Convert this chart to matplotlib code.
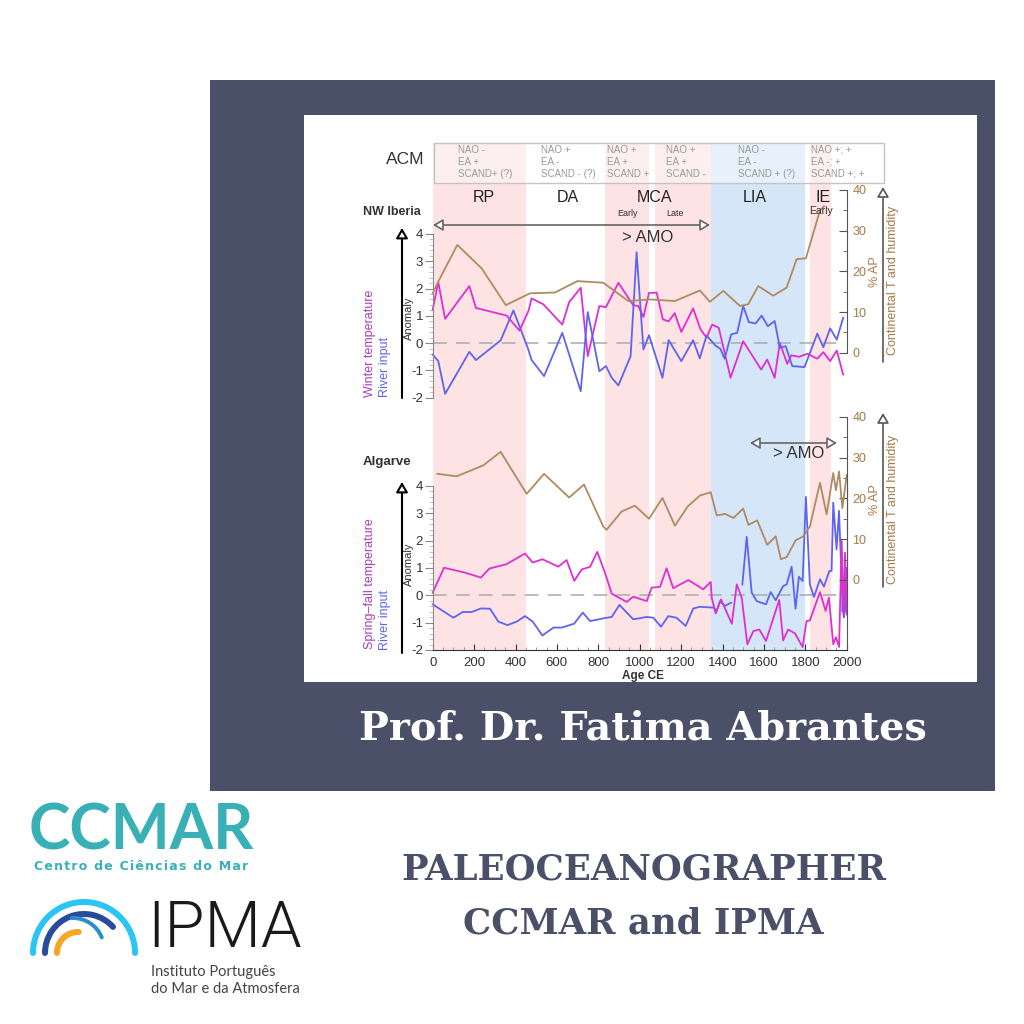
import matplotlib
matplotlib.use("Agg")
import matplotlib.pyplot as plt
from matplotlib.patches import Rectangle, Arc

plt.rcParams["font.family"] = ["Liberation Sans", "DejaVu Sans"]
plt.rcParams["axes.unicode_minus"] = False

# %% data
era_names = ["RP", "DA", "MCA", "LIA", "IE"]
era_spans = [(0, 450, "pink"), (832, 1047, "pink"), (1072, 1343, "pink"),
             (1343, 1800, "blue"), (1824, 1925, "pink")]
year_ticks = [0, 200, 400, 600, 800, 1000, 1200, 1400, 1600, 1800, 2000]
anomaly_ticks = [-2, -1, 0, 1, 2, 3, 4]
ap_ticks = [0, 10, 20, 30, 40]
acm_labels = ["NAO -\nEA +\nSCAND+ (?)", "NAO +\nEA -\nSCAND - (?)", "NAO +\nEA +\nSCAND +",
              "NAO +\nEA +\nSCAND -", "NAO -\nEA -\nSCAND + (?)", "NAO +; +\nEA -; +\nSCAND +; +"]

nw_ap_x = [0, 27, 119, 237, 353, 470, 591, 699, 824, 945, 1050, 1170, 1291, 1339, 1404, 1484,
           1524, 1573, 1645, 1710, 1758, 1803, 1822, 1871, 1890]
nw_ap_y = [14.6, 17.5, 26.5, 20.7, 11.7, 14.6, 14.8, 17.6, 17.2, 12.7, 13.1, 12.7, 15.3, 12.5,
           15.2, 11.5, 11.9, 16.4, 14, 16, 23, 23.2, 26.5, 35, 36]
nw_temp_x = [0, 27, 60, 177, 209, 357, 419, 462, 478, 535, 626, 659, 715, 749, 805, 837, 897,
             969, 993, 1018, 1045, 1082, 1112, 1140, 1169, 1201, 1258, 1294, 1323, 1350, 1382,
             1439, 1500, 1587, 1616, 1652, 1677, 1713, 1732, 1770, 1810, 1858, 1887, 1920, 1952, 1983]
nw_temp_y = [1.23, 2.23, 0.89, 2.09, 1.29, 1.01, 0.46, 1.17, 1.64, 1.42, 0.68, 1.5, 2.03, -0.48,
             1.36, 1.32, 2.21, 1.39, 1.36, 0.96, 1.84, 1.85, 0.87, 0.8, 1.1, 0.41, 1.27, 0.5, 0.2,
             0.68, 0.56, -1.27, 0.07, -0.97, -0.6, -1.27, 0, -0.76, -0.45, -0.5, -0.39, -0.57,
             -0.33, -0.66, -0.27, -1.15]
nw_river_x = [0, 27, 60, 177, 209, 328, 390, 459, 478, 538, 626, 715, 749, 805, 837, 865, 897,
              956, 985, 1018, 1045, 1110, 1140, 1201, 1258, 1290, 1323, 1366, 1390, 1410, 1442,
              1471, 1500, 1527, 1560, 1589, 1619, 1652, 1677, 1705, 1737, 1796, 1858, 1887, 1920,
              1952, 1983]
nw_river_y = [-0.42, -0.66, -1.86, -0.32, -0.62, 0.1, 1.2, -0.17, -0.62, -1.21, 0.38, -1.76, 1.14,
              -1.03, -0.84, -1.27, -1.55, -0.48, 3.33, -0.23, 0.29, -1.27, 0.11, -0.66, 0.11,
              -0.56, 0.28, -0.09, -0.21, -0.57, 0.32, 0.38, 1.36, 0.77, 0.72, 1.01, 0.62, 0.81,
              -0.17, -0.11, -0.84, -0.88, 0.35, -0.15, 0.54, 0.13, 0.93]

alg_ap_x = [23, 116, 245, 328, 454, 538, 659, 731, 824, 840, 913, 977, 1045, 1110, 1170, 1232,
            1291, 1343, 1372, 1412, 1453, 1500, 1525, 1568, 1616, 1657, 1682, 1710, 1753, 1790,
            1822, 1871, 1903, 1935, 1948, 1963, 1979, 2000]
alg_ap_y = [26, 25.4, 28.1, 31.4, 21.1, 26, 20.2, 23.4, 13.1, 12.3, 16.8, 18.2, 15, 20.1, 13.3,
            18, 20.7, 21.5, 15.8, 16.2, 15.2, 17.5, 13.5, 14.6, 8.6, 10.7, 5.1, 5.6, 9.7, 10.7,
            13.1, 23.8, 16.1, 26.2, 22, 26.6, 17.6, 25.7]
alg_temp_x = [0, 55, 156, 233, 274, 357, 446, 483, 530, 607, 647, 684, 720, 760, 795, 832, 865,
              937, 969, 1034, 1058, 1098, 1130, 1162, 1235, 1307, 1343, 1348, 1367, 1393, 1445,
              1469, 1493, 1520, 1549, 1578, 1610, 1674, 1693, 1717, 1750, 1787, 1806, 1822, 1871,
              1898, 1914, 1935, 1948, 1963, 1976, 1984, 1992, 2000]
alg_temp_y = [0.1, 1.01, 0.83, 0.65, 0.98, 1.14, 1.53, 1.2, 1.32, 1.05, 1.29, 0.53, 0.95, 1.04,
              1.59, 0.83, 0.06, -0.24, -0.05, -0.21, 0.28, 0.31, 0.99, 0.26, 0.56, 0.22, 0.49,
              -0.09, -0.66, -0.15, -1.04, 0.4, -0.09, -1.79, -1.31, -1.25, -1.67, -0.17, -1.65,
              -1.25, -1.39, -1.89, -0.94, -0.92, 0.12, -0.57, -0.09, -1.79, -1.53, -1.89, 1.99,
              -0.7, 1.56, -0.7]
alg_river_x = [0, 100, 145, 188, 233, 277, 317, 361, 406, 446, 483, 530, 583, 623, 683, 725, 760,
               841, 865, 902, 969, 1034, 1066, 1103, 1138, 1178, 1222, 1259, 1291, 1356, 1372,
               1388, 1412, 1441, 1470, 1496, 1517, 1541, 1565, 1610, 1633, 1657, 1693, 1710, 1734,
               1753, 1769, 1787, 1803, 1822, 1842, 1871, 1890, 1916, 1927, 1935, 1951, 1963, 1976,
               1980, 1984, 1987, 1990, 1993, 1996, 1998, 2000]
alg_river_y = [-0.33, -0.82, -0.61, -0.61, -0.48, -0.49, -0.96, -1.09, -0.96, -0.76, -0.96, -1.47,
               -1.18, -1.18, -1.04, -0.63, -0.94, -0.82, -0.79, -0.35, -0.88, -0.79, -0.82, -1.15,
               -0.76, -0.82, -1.12, -0.48, -0.42, -0.45, -0.57, -0.21, -0.39, -0.27, float("nan"),
               0.4, 2.14, 0.1, -0.21, -0.33, 0.12, -0.18, 0.34, 0.4, 1.05, -0.49, 0.68, 0.52, 3.6,
               0.4, -0.06, 0.59, 0.32, 0.89, 0.89, 3.39, 1.68, 3.09, 0.46, -0.6, 0.4, -0.8, 0.2,
               -0.6, 0.6, -0.3, 1.0]

# %% colours
SLATE = "#4a5068"
PINK = "#fde3e3"
BLUE = "#d4e6f8"
BROWN = "#b08a62"
BROWN_TXT = "#a87a45"
MAGENTA = "#e02fd0"
RIVER = "#5f64f0"
TEAL = "#38b0b5"
GREY = "#8a8a8a"
DARK = "#333333"

fig = plt.figure(figsize=(10.24, 10.24), dpi=100, facecolor="white")


def px_axes(left, top, right, bottom, zorder):
    ax = fig.add_axes([left / 1024, 1 - bottom / 1024, (right - left) / 1024, (bottom - top) / 1024],
                      zorder=zorder)
    ax.patch.set_alpha(0)
    return ax


def layer(zorder):
    ax = px_axes(0, 0, 1024, 1024, zorder)
    ax.set_xlim(0, 1024)
    ax.set_ylim(1024, 0)
    ax.axis("off")
    return ax


# %% background panels
bg = layer(0)
bg.add_patch(Rectangle((210, 80), 785, 711, color=SLATE, lw=0))
bg.add_patch(Rectangle((304, 115), 673, 567, color="white", lw=0))

# %% era bands
X0, X1 = 432.7, 846.7
era = px_axes(X0, 143, X1, 650, 1)
era.set_xlim(0, 2000)
era.set_ylim(0, 1)
era.axis("off")
for start, end, kind in era_spans:
    era.axvspan(start, end, color=PINK if kind == "pink" else BLUE, lw=0)


# %% anomaly and % AP panels
def anomaly_panel(top, bottom, series, show_x):
    ax = px_axes(X0, top, X1, bottom, 2)
    ax.set_xlim(0, 2000)
    ax.set_ylim(-2, 4)
    ax.axhline(0, xmax=0.98, color="#aaaaaa", lw=1.1, dashes=(9, 6))
    for xs, ys, col in series:
        ax.plot(xs, ys, color=col, lw=1.3, clip_on=False)
    for side in ["top", "right"]:
        ax.spines[side].set_visible(False)
    ax.spines["left"].set_color(GREY)
    ax.spines["bottom"].set_color(DARK if show_x else "none")
    ax.set_yticks(anomaly_ticks)
    ax.set_yticks([v / 5 for v in range(-10, 21)], minor=True)
    ax.tick_params(axis="y", which="major", length=6, color=GREY, labelsize=9.5, labelcolor=DARK, pad=1)
    ax.tick_params(axis="y", which="minor", length=3, color="#bbbbbb")
    if show_x:
        ax.set_xticks(year_ticks)
        ax.set_xticks(range(0, 2001, 50), minor=True)
        ax.tick_params(axis="x", which="major", direction="in", length=4, color=DARK,
                       labelsize=9.5, labelcolor=DARK, pad=5)
        ax.tick_params(axis="x", which="minor", direction="in", length=2, color=GREY)
    else:
        ax.set_xticks([])
    return ax


def ap_panel(top, bottom, xs, ys):
    ax = px_axes(X0, top, X1, bottom, 2)
    ax.set_xlim(0, 2000)
    ax.set_ylim(0, 40)
    ax.plot(xs, ys, color=BROWN, lw=1.3, clip_on=False)
    for side in ["top", "left", "bottom"]:
        ax.spines[side].set_visible(False)
    ax.spines["right"].set_color("#555555")
    ax.set_xticks([])
    ax.yaxis.tick_right()
    ax.set_yticks(ap_ticks)
    ax.set_yticks(range(0, 41, 5), minor=True)
    ax.tick_params(axis="y", which="major", direction="in", length=6, color="#555555",
                   labelsize=9, labelcolor=BROWN_TXT, pad=4)
    ax.tick_params(axis="y", which="minor", direction="in", length=3, color="#555555")
    return ax


anomaly_panel(234, 397.7, [(nw_temp_x, nw_temp_y, MAGENTA), (nw_river_x, nw_river_y, RIVER)], False)
ap_panel(190, 352.7, nw_ap_x, nw_ap_y)
alg_ax = anomaly_panel(486, 650, [(alg_river_x, alg_river_y, RIVER), (alg_temp_x, alg_temp_y, MAGENTA)], True)
ap_panel(416.7, 580, alg_ap_x, alg_ap_y)
# lower axis line runs down to the year axis
alg_ax.plot([2000, 2000], [-2, 4], color="#555555", lw=0.8, clip_on=False)

# %% labels, arrows, box on top
top = layer(5)
top.add_patch(Rectangle((434, 143), 450, 40, facecolor="white", alpha=0.45, edgecolor="none"))
top.add_patch(Rectangle((434, 143), 450, 40, fill=False, edgecolor="#c4c4c4", lw=1))
top.text(405, 159, "ACM", fontsize=12.5, color=DARK, ha="center", va="center")
for x, label in zip([458, 541, 607, 666, 738, 811], acm_labels):
    top.text(x, 162, label, fontsize=7, color="#999999", ha="left", va="center", linespacing=1.25)
for x, name in zip([484, 568, 654, 755, 823], era_names):
    top.text(x, 198, name, fontsize=11.5, color="#222222", ha="center", va="center")
top.text(627, 213, "Early", fontsize=6.5, color=DARK, ha="center", va="center")
top.text(675, 213, "Late", fontsize=6.5, color=DARK, ha="center", va="center")
top.text(821, 211, "Early", fontsize=7.5, color=DARK, ha="center", va="center")


def arrow(x0, y0, x1, y1, color, style="-|>", lw=1.5):
    top.annotate("", xy=(x1, y1), xytext=(x0, y0),
                 arrowprops=dict(arrowstyle=style + ",head_width=0.35,head_length=0.6", fc="white",
                                 ec=color, lw=lw, shrinkA=0, shrinkB=0))


def vtext(x, y, s, color, size=9):
    top.text(x, y, s, rotation=90, fontsize=size, color=color, ha="center", va="center")


# NW Iberia
top.text(363, 212, "NW Iberia", fontsize=9, fontweight="bold", color=DARK, ha="left", va="center")
arrow(433, 225, 710, 225, "#666666", "<|-|>", 1.2)
top.text(647.5, 237, "> AMO", fontsize=12, color=DARK, ha="center", va="center")
arrow(402, 398, 402, 228, "black")
vtext(370, 343, "Winter temperature", "#b03cb8")
vtext(385, 367, "River input", RIVER)
vtext(409, 318, "Anomaly", DARK, 8)
vtext(875, 272, "% AP", BROWN_TXT)
arrow(883, 362, 883, 187, "#555555", lw=1.2)
vtext(893, 280, "Continental T and humidity", BROWN_TXT)

# Algarve
top.text(363, 462, "Algarve", fontsize=9.5, fontweight="bold", color=DARK, ha="left", va="center")
arrow(750, 443, 837, 443, "#666666", "<|-|>", 1.2)
top.text(799, 453, "> AMO", fontsize=12, color=DARK, ha="center", va="center")
arrow(402, 653, 402, 482, "black")
vtext(370, 584, "Spring\u2013fall temperature", "#b03cb8")
vtext(385, 620, "River input", RIVER)
vtext(409, 564, "Anomaly", DARK, 8)
vtext(875, 500, "% AP", BROWN_TXT)
arrow(883, 587, 883, 413, "#555555", lw=1.2)
vtext(893, 509, "Continental T and humidity", BROWN_TXT)
top.text(643, 676, "Age CE", fontsize=8.5, fontweight="bold", color=DARK, ha="center", va="center")

# %% headline text
top.text(642.5, 729, "Prof. Dr. Fatima Abrantes", family="DejaVu Serif", fontweight="bold",
         fontsize=28.6, color="white", ha="center", va="center")
top.text(643.5, 869, "PALEOCEANOGRAPHER", family="DejaVu Serif", fontweight="bold",
         fontsize=25.6, color=SLATE, ha="center", va="center")
top.text(643, 923, "CCMAR and IPMA", family="DejaVu Serif", fontweight="bold",
         fontsize=25.5, color=SLATE, ha="center", va="center")

# %% logos
top.text(141, 832, "CCMAR", family="Lato", fontweight="bold", fontsize=45, color=TEAL, ha="center", va="center")
top.text(141, 866, "\u200a".join("Centro de Ciências do Mar"), family="DejaVu Sans", fontweight="bold",
         fontsize=9, color=TEAL, ha="center", va="center")
for cx, cy, r, t1, t2, col, w in [(84, 953, 51, 180, 360, "#2cc4f4", 6),
                                  (84, 953, 39, 180, 318, "#2a4a9c", 6),
                                  (73, 949, 31, 268, 338, "#2a8fc8", 4),
                                  (78, 953, 21, 180, 272, "#f5a623", 6)]:
    top.add_patch(Arc((cx, cy), 2 * r, 2 * r, theta1=t1, theta2=t2, color=col, lw=w * 0.72, capstyle="round"))
top.text(225, 929, "IPMA", family="Roboto", fontweight=300, fontsize=47, color="#1a1a1a", ha="center", va="center")
top.text(151, 972, "Instituto Português", family="Lato", fontsize=10.5, color="#444444", ha="left", va="center")
top.text(151, 989, "do Mar e da Atmosfera", family="Lato", fontsize=10.5, color="#444444", ha="left", va="center")

fig.savefig("out.png", dpi=100)
